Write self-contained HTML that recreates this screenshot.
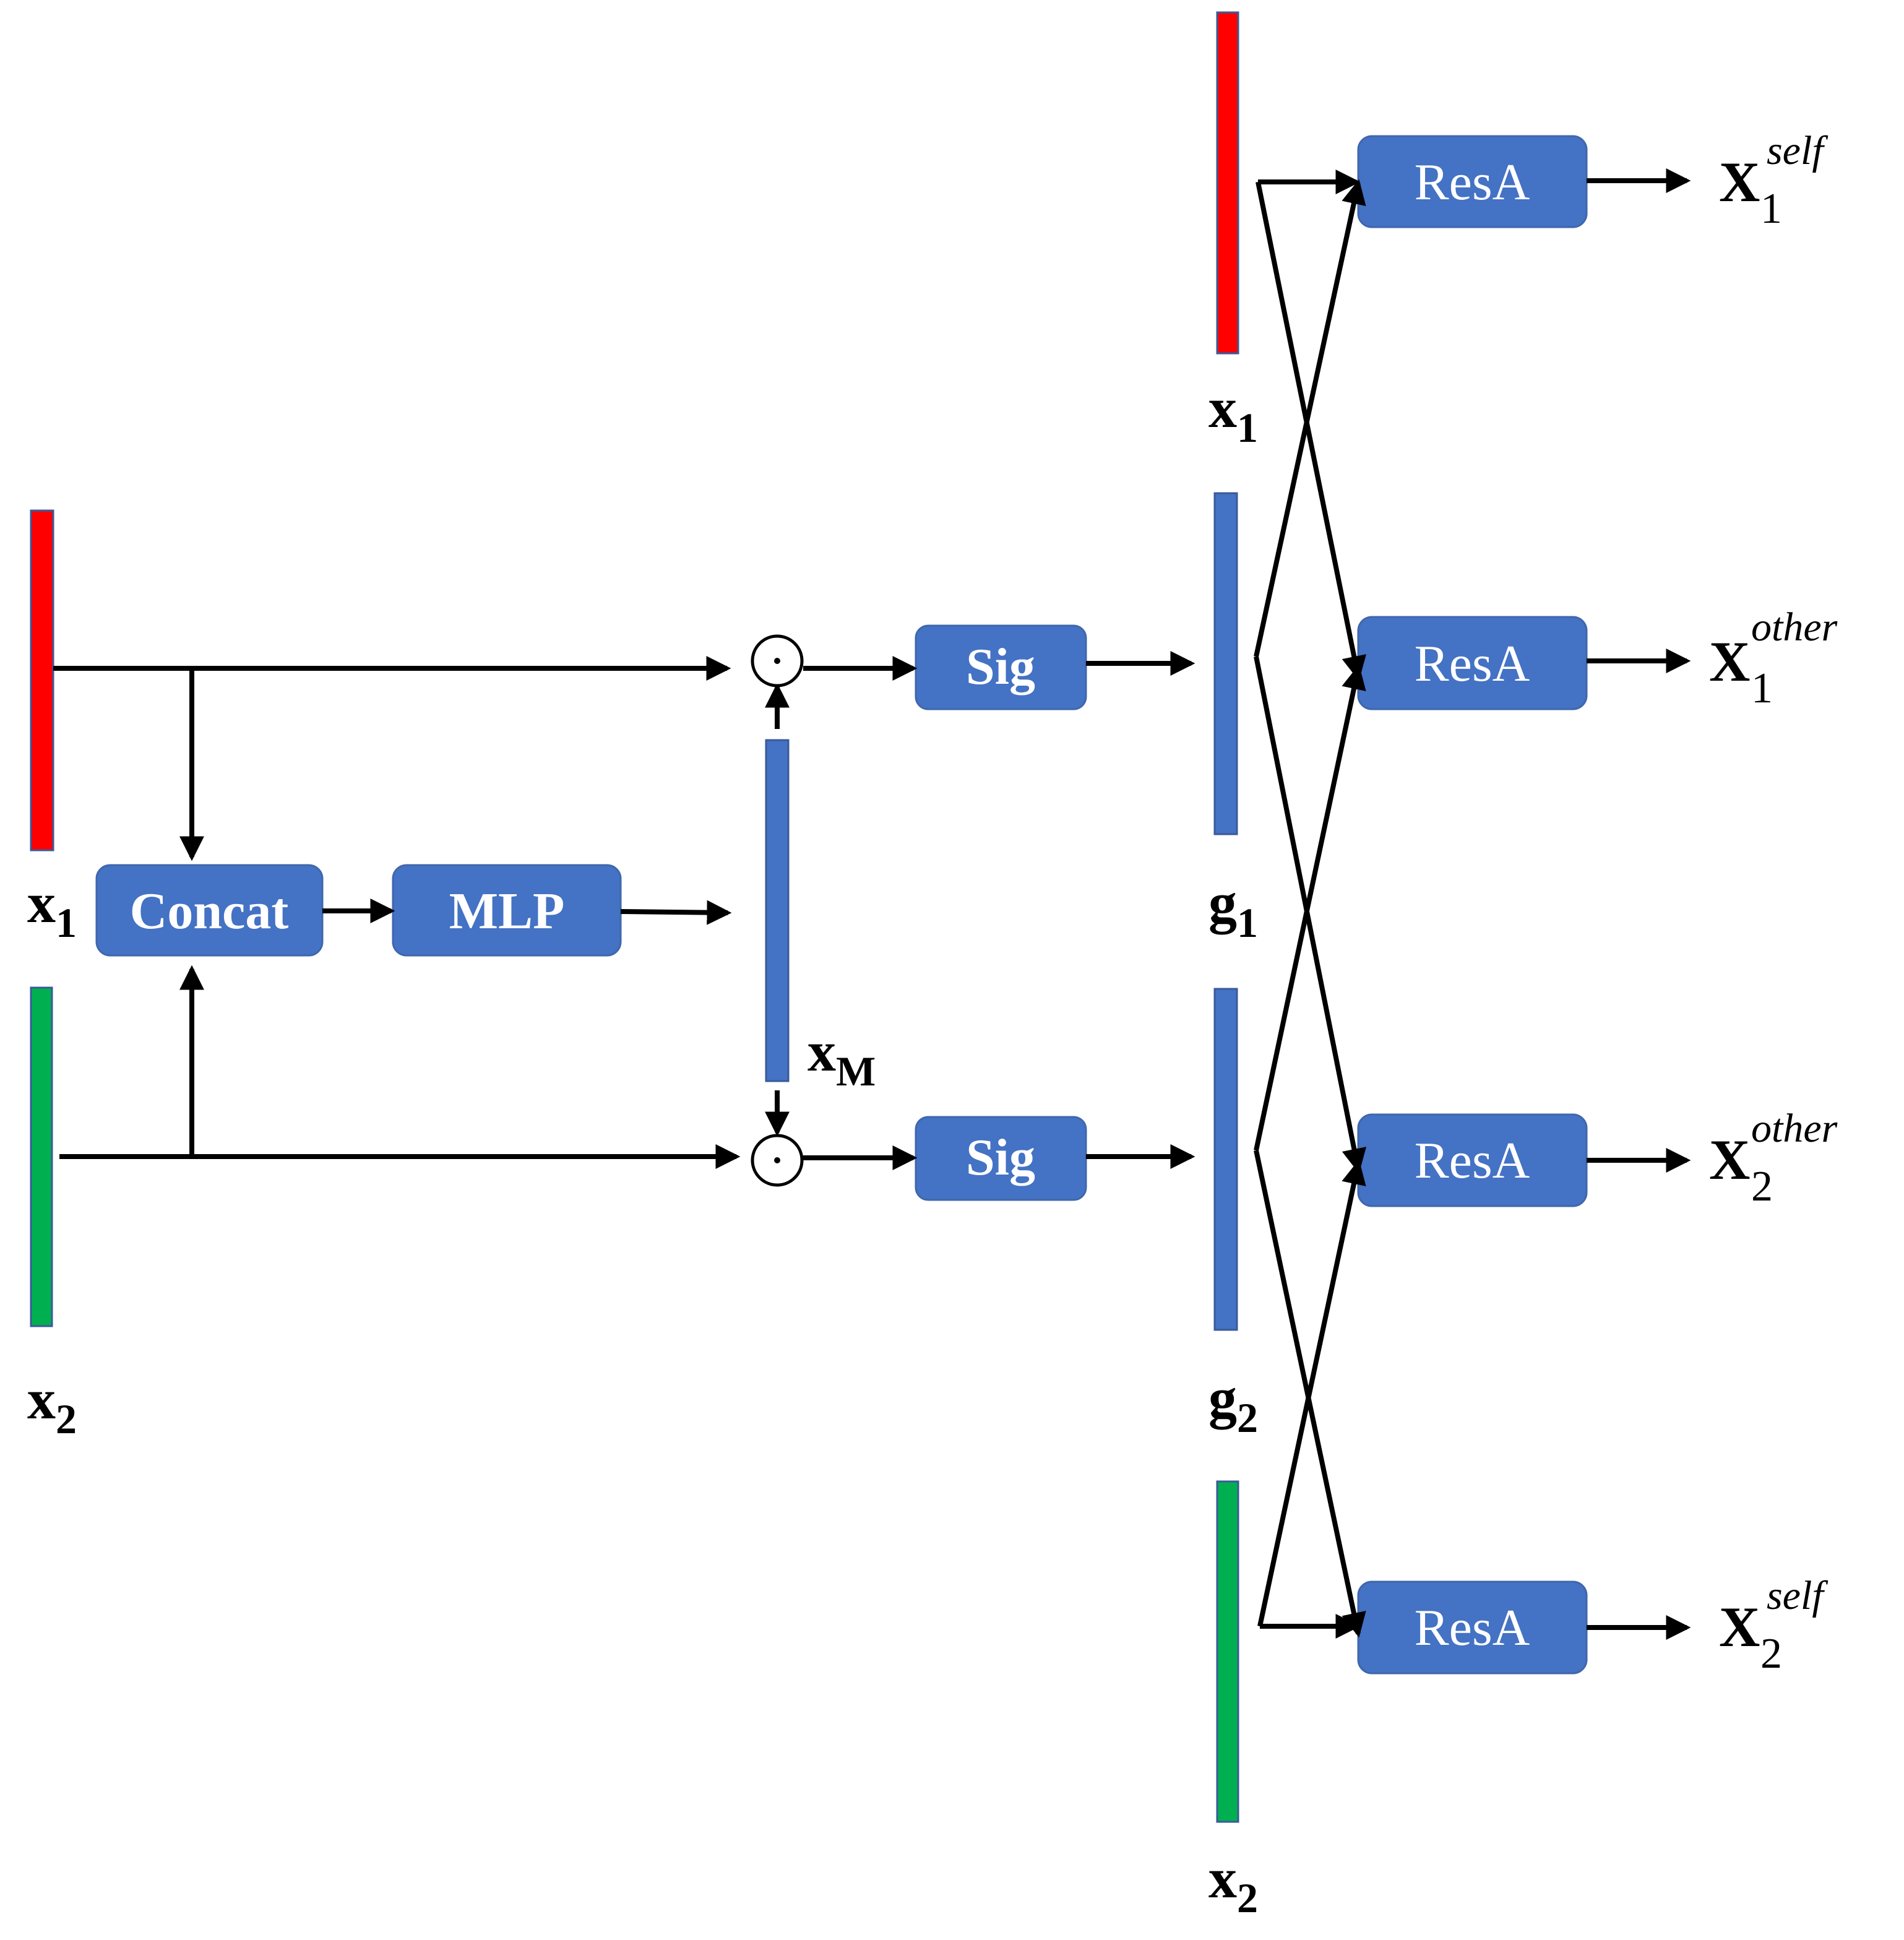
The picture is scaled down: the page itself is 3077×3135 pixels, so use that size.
<!DOCTYPE html>
<html><head><meta charset="utf-8"><style>
html,body{margin:0;padding:0;background:#fff}
svg{display:block}
text{font-family:"Liberation Serif",serif}
</style></head><body>
<svg width="3077" height="3135" viewBox="0 0 3077 3135" xmlns="http://www.w3.org/2000/svg">
<defs>
<marker id="a" markerWidth="5" markerHeight="5" refX="4.2" refY="2.5" orient="auto" markerUnits="strokeWidth">
<path d="M0,0 L5,2.5 L0,5 z" fill="#000"/></marker>
</defs>
<g stroke="#3a5a9a" stroke-width="3">
<rect x="50" y="825" width="36" height="549" fill="#ff0000"/>
<rect x="50" y="1596" width="34" height="547" fill="#00b050"/>
<rect x="1238" y="1196" width="36" height="551" fill="#4472c4"/>
<rect x="1963" y="797" width="36" height="551" fill="#4472c4"/>
<rect x="1963" y="1598" width="36" height="551" fill="#4472c4"/>
<rect x="1967" y="20" width="34" height="551" fill="#ff0000"/>
<rect x="1967" y="2394" width="34" height="550" fill="#00b050"/>
</g>
<g fill="#4472c4" stroke="#3f67ad" stroke-width="3">
<rect x="156" y="1398" width="365" height="146" rx="22"/>
<rect x="635" y="1398" width="368" height="146" rx="22"/>
<rect x="1480" y="1011" width="275" height="135" rx="20"/>
<rect x="1480" y="1805" width="275" height="134" rx="20"/>
<rect x="2195" y="220" width="369" height="147" rx="22"/>
<rect x="2195" y="997" width="369" height="149" rx="22"/>
<rect x="2195" y="1801" width="369" height="148" rx="22"/>
<rect x="2195" y="2556" width="369" height="148" rx="22"/>
</g>
<g stroke="#000" stroke-width="8" fill="none" marker-end="url(#a)">
<path d="M86,1080 H1175"/>
<path d="M310,1080 V1385"/>
<path d="M96,1869 H1190"/>
<path d="M310,1869 V1566"/>
<path d="M521,1472 H632"/>
<path d="M1003,1473 L1176,1475"/>
<path d="M1256,1178 V1110"/>
<path d="M1256,1762 V1830"/>
<path d="M1298,1080 H1476"/>
<path d="M1298,1871 H1476"/>
<path d="M1755,1072 H1925"/>
<path d="M1755,1869 H1925"/>
<path d="M2564,292 H2726"/>
<path d="M2564,1068 H2726"/>
<path d="M2564,1875 H2726"/>
<path d="M2564,2630 H2726"/>
<path d="M2033,294 H2192"/>
<path d="M2033,294 L2195,1094"/>
<path d="M2030,1061 L2195,296"/>
<path d="M2030,1061 L2195,1890"/>
<path d="M2030,1859 L2195,1080"/>
<path d="M2030,1859 L2195,2640"/>
<path d="M2036,2628 H2192"/>
<path d="M2036,2628 L2195,1880"/>
</g>
<g stroke="#000" stroke-width="5" fill="#fff">
<circle cx="1256" cy="1068" r="40"/>
<circle cx="1256" cy="1875" r="40"/>
</g>
<circle cx="1256" cy="1068" r="5" fill="#000"/>
<circle cx="1256" cy="1875" r="5" fill="#000"/>
<g fill="#fff" text-anchor="middle" font-size="84">
<text x="338" y="1500" font-weight="bold">Concat</text>
<text x="819" y="1500" font-weight="bold">MLP</text>
<text x="1617" y="1105" font-weight="bold">Sig</text>
<text x="1617" y="1898" font-weight="bold">Sig</text>
<text x="2379" y="322">ResA</text>
<text x="2379" y="1100">ResA</text>
<text x="2379" y="1903">ResA</text>
<text x="2379" y="2658">ResA</text>
</g>
<g fill="#000" font-size="92" font-weight="bold">
<text x="44" y="1490">x<tspan font-size="68" dy="24">1</tspan></text>
<text x="44" y="2292">x<tspan font-size="68" dy="24">2</tspan></text>
<text x="1305" y="1730">x<tspan font-size="68" dy="24">M</tspan></text>
<text x="1953" y="690">x<tspan font-size="68" dy="24">1</tspan></text>
<text x="1953" y="1490">g<tspan font-size="68" dy="24">1</tspan></text>
<text x="1953" y="2290">g<tspan font-size="68" dy="24">2</tspan></text>
<text x="1953" y="3066">x<tspan font-size="68" dy="24">2</tspan></text>
</g>
<g fill="#000" font-size="92">
<text x="2778" y="325" font-weight="bold">X</text>
<text x="2845" y="360" font-size="70">1</text>
<text x="2855" y="265" font-size="66" font-style="italic">self</text>
<text x="2762" y="1100" font-weight="bold">X</text>
<text x="2830" y="1135" font-size="70">1</text>
<text x="2830" y="1035" font-size="66" font-style="italic">other</text>
<text x="2762" y="1905" font-weight="bold">X</text>
<text x="2830" y="1940" font-size="70">2</text>
<text x="2830" y="1845" font-size="66" font-style="italic">other</text>
<text x="2778" y="2660" font-weight="bold">X</text>
<text x="2845" y="2695" font-size="70">2</text>
<text x="2855" y="2600" font-size="66" font-style="italic">self</text>
</g>
</svg>
</body></html>
